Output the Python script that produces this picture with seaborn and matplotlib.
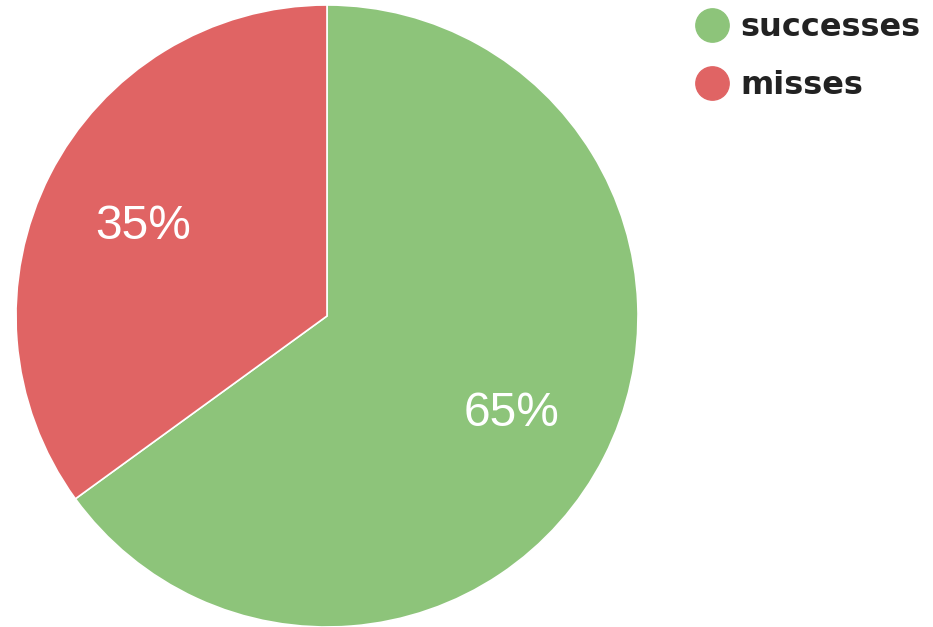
import matplotlib
matplotlib.use("Agg")
import matplotlib.pyplot as plt
import matplotlib.transforms as mtransforms
from matplotlib.lines import Line2D
import seaborn as sns

categories = ["successes", "misses"]
values = [65, 35]
colors_hex = ["#8dc47a", "#e06464"]

sns.set_theme(style="white")
plt.rcParams["font.family"] = ["DejaVu Sans"]
palette = sns.color_palette(colors_hex)

fig = plt.figure(figsize=(9.33, 6.27), dpi=100)
ax = fig.add_axes([16 / 933, 0 / 627, 622 / 933, 622 / 627])
wedges, texts, autotexts = ax.pie(
    values,
    colors=palette,
    startangle=90,
    counterclock=False,
    autopct=lambda p: f"{p:.0f}%",
    pctdistance=0.665,
    wedgeprops=dict(edgecolor="white", linewidth=1.2),
    textprops=dict(color="white", fontsize=34.5, family="Liberation Sans"),
)
shift = mtransforms.ScaledTranslation(0, -4 / 100, fig.dpi_scale_trans)
for t in autotexts:
    t.set_transform(t.get_transform() + shift)
ax.set_aspect("equal")
ax.set_xlim(-1.0, 1.0)
ax.set_ylim(-1.0, 1.0)
ax.axis("off")

handles = [Line2D([0], [0], marker="o", linestyle="", markersize=24,
                  markerfacecolor=c, markeredgecolor=c) for c in palette]
leg = fig.legend(handles, categories, loc="upper left",
                 bbox_to_anchor=(686 / 933, 1 - 6 / 627), frameon=False,
                 handletextpad=0.3, labelspacing=0.84, handlelength=1.2,
                 borderaxespad=0, borderpad=0.2,
                 prop=dict(family="DejaVu Sans", weight="bold", size=23))
for t in leg.get_texts():
    t.set_color("#222222")

fig.savefig("out.png", dpi=100, facecolor="white")
